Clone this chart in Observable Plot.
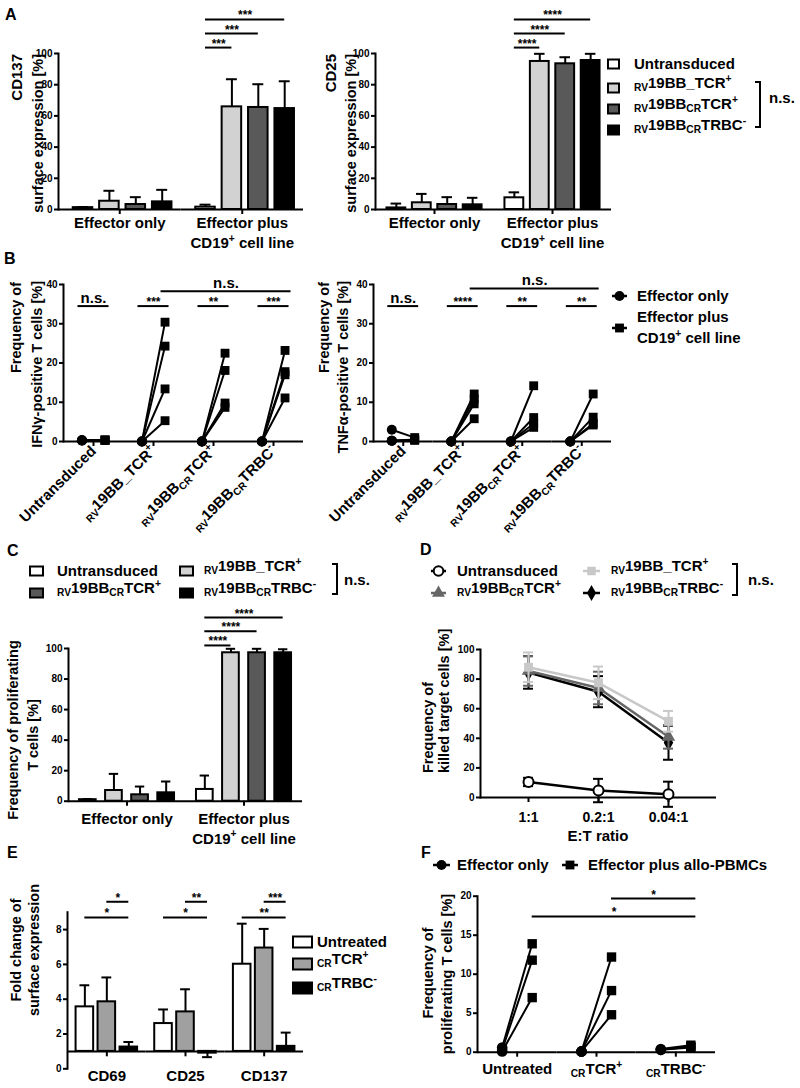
<!DOCTYPE html>
<html>
<head>
<meta charset="utf-8">
<script src="https://cdn.jsdelivr.net/npm/d3@7"></script>
<script src="https://cdn.jsdelivr.net/npm/@observablehq/plot@0.6"></script>
<style>
html,body{margin:0;padding:0;background:#fff;}
#fig{position:relative;width:800px;height:1088px;overflow:hidden;background:#fff;font-family:'Liberation Sans',Arial,Helvetica,sans-serif;font-weight:bold;}
#fig svg{position:absolute;}
</style>
</head>
<body>
<div id="fig"></div>
<script>
// ======================= DATA =======================
// Panels A & C (bar charts)
const barSeries = ["Untransduced", "_{RV}19BB_TCR^{+}", "_{RV}19BB_{CR}TCR^{+}", "_{RV}19BB_{CR}TRBC^{-}"];
const barConditions = ["Effector only", "Effector plus\nCD19^{+} cell line"];
const barColors = ["#ffffff", "#d2d2d2", "#595959", "#000000"];
const cd137Mean = [[1.2, 5.3, 3.2, 4.9], [1.5, 65.8, 65.4, 64.7]];
const cd137SD = [[0.4, 6.7, 4.7, 7.7], [1.6, 17.7, 14.9, 17.5]];
const cd25Mean = [[1.0, 4.3, 3.2, 3.0], [7.5, 94.9, 93.4, 95.5]];
const cd25SD = [[2.8, 5.7, 4.7, 4.5], [3.5, 4.9, 4.2, 4.3]];
const prolifMean = [[1.0, 7.0, 4.2, 5.5], [7.7, 97.2, 97.2, 97.2]];
const prolifSD = [[0.4, 10.9, 5.4, 7.4], [9.1, 2.6, 2.6, 2.3]];
const pctTicks = [0, 20, 40, 60, 80, 100];
const cd137Sig = [{group: 1, from: 0, to: 1, level: 103.8, label: "***"}, {group: 1, from: 0, to: 2, level: 112.8, label: "***"}, {group: 1, from: 0, to: 3, level: 121.8, label: "***"}];
const cd25Sig = [{group: 1, from: 0, to: 1, level: 103.8, label: "****"}, {group: 1, from: 0, to: 2, level: 112.8, label: "****"}, {group: 1, from: 0, to: 3, level: 121.8, label: "****"}];
const prolifSig = [{group: 1, from: 0, to: 1, level: 102, label: "****"}, {group: 1, from: 0, to: 2, level: 111.3, label: "****"}, {group: 1, from: 0, to: 3, level: 120.3, label: "****"}];

// Panel B (paired cytokine data, one value per donor)
const cytoGroups = ["Untransduced", "_{RV}19BB_TCR^{+}", "_{RV}19BB_{CR}TCR^{+}", "_{RV}19BB_{CR}TRBC^{-}"];
const cytoConditions = ["Effector only", "Effector plus CD19+ cell line"];
const ifngEffector = [[0.3, 0.3, 0.2, 0.3], [0, 0, 0, 0], [0, 0, 0, 0], [0, 0, 0, 0]];
const ifngPlus = [[0.4, 0.3, 0.4, 0.3], [30.4, 24.3, 13.4, 5.3], [22.5, 18.1, 9.8, 8.7], [23.2, 17.8, 17.0, 11.1]];
const tnfEffector = [[3.0, 0.2, 0.2, 0.2], [0, 0, 0, 0], [0, 0, 0, 0], [0, 0, 0, 0]];
const tnfPlus = [[1.0, 0.4, 0.3, 0.5], [12.1, 10.8, 9.6, 5.8], [14.2, 6.1, 4.6, 3.6], [12.1, 6.2, 4.6, 4.2]];
const cytoTicks = [0, 10, 20, 30, 40];
const ifngSig = ["n.s.", "***", "**", "***"];
const tnfSig = ["n.s.", "****", "**", "**"];
const cytoSigLevel = 34.5;
const ifngSpan = [{from: 1, to: 3, level: 38.3, label: "n.s."}];
const tnfSpan = [{from: 1, to: 3, level: 39.0, label: "n.s."}];

// Panel D (killing curves)
const ratios = ["1:1", "0.2:1", "0.04:1"];
const killSeries = ["Untransduced", "_{RV}19BB_TCR^{+}", "_{RV}19BB_{CR}TCR^{+}", "_{RV}19BB_{CR}TRBC^{-}"];
const killColors = ["#000000", "#c8c8c8", "#666666", "#000000"];
const killSymbols = ["circle", "square", "triangle", "diamond"];
const killMean = [[10.5, 4.7, 2.2], [88, 77.5, 51.5], [85.5, 74, 41], [84.5, 71.5, 37]];
const killSD = [[2.8, 7.9, 8.5], [10, 11, 7], [10, 11, 8], [11, 10.5, 11.5]];

// Panel E (fold change)
const markers = ["CD69", "CD25", "CD137"];
const treatments = ["Untreated", "_{CR}TCR^{+}", "_{CR}TRBC^{-}"];
const treatColors = ["#ffffff", "#a0a0a0", "#000000"];
const foldMean = [[3.56, 3.85, 1.25], [2.6, 3.27, 0.9], [6.01, 6.94, 1.29]];
const foldSD = [[1.24, 1.4, 0.29], [0.81, 1.3, 0.23], [2.33, 1.1, 0.79]];
const foldBaseline = 1;
const foldTicks = [0, 2, 4, 6, 8];
const foldSig = [
  {marker: 0, from: 1, to: 2, level: 9.6, label: "*"}, {marker: 0, from: 0, to: 2, level: 8.7, label: "*"},
  {marker: 1, from: 1, to: 2, level: 9.6, label: "**"}, {marker: 1, from: 0, to: 2, level: 8.7, label: "*"},
  {marker: 2, from: 1, to: 2, level: 9.6, label: "***"}, {marker: 2, from: 0, to: 2, level: 8.7, label: "**"}
];

// Panel F (allo proliferation)
const alloGroups = ["Untreated", "_{CR}TCR^{+}", "_{CR}TRBC^{-}"];
const alloConditions = ["Effector only", "Effector plus allo-PBMCs"];
const alloEffector = [[0.6, 0.3, 0.1], [0.1, 0.1, 0.1], [0.4, 0.3, 0.3]];
const alloPlus = [[13.9, 11.8, 7.0], [12.2, 7.9, 4.8], [0.9, 0.7, 0.6]];
const alloTicks = [0, 5, 10, 15, 20];
const alloSpan = [{from: 1, to: 2, level: 19.7, label: "*"}, {from: 0, to: 2, level: 17.4, label: "*"}];

// ======================= HELPERS =======================
const FONT = "'Liberation Sans', Arial, Helvetica, sans-serif";
const SW = 2;
const fig = document.getElementById("fig");
const SVGNS = "http://www.w3.org/2000/svg";

// turns "_{sub}" and "^{sup}" markup into real sub/superscript tspans
function richify(root) {
  const els = Array.from(root.querySelectorAll("text, tspan"))
    .filter(el => el.childElementCount === 0 && /[_^]\{/.test(el.textContent));
  for (const el of els) {
    const s = el.textContent;
    el.textContent = "";
    const tokens = s.match(/_\{[^}]*\}|\^\{[^}]*\}|[^_^]+|[_^]/g) || [];
    let shift = 0;
    for (const t of tokens) {
      const ts = document.createElementNS(SVGNS, "tspan");
      let target = 0, size = 1;
      if (t.startsWith("_{")) { target = 0.22; size = 0.68; ts.textContent = t.slice(2, -1); }
      else if (t.startsWith("^{")) { target = -0.42; size = 0.68; ts.textContent = t.slice(2, -1); }
      else ts.textContent = t;
      if (size !== 1) ts.setAttribute("font-size", (size * 100) + "%");
      const d = target - shift;
      if (d) ts.setAttribute("dy", (d / size).toFixed(3) + "em");
      shift = target;
      el.appendChild(ts);
    }
  }
}

function box(svgBox, frameBox) {
  const [sx, sy, sw, sh] = svgBox, [x0, x1, yT, yB] = frameBox;
  return {
    width: sw, height: sh,
    marginLeft: x0 - sx, marginRight: sx + sw - x1, marginTop: yT - sy, marginBottom: sy + sh - yB,
    style: {fontFamily: FONT, fontWeight: "bold", fontSize: "10px", background: "transparent", overflow: "visible", color: "black"}
  };
}

function mount(el, svgBox) {
  el.style.position = "absolute";
  el.style.left = svgBox[0] + "px";
  el.style.top = svgBox[1] + "px";
  fig.appendChild(el);
  richify(el);
}

function safe(fn) { try { fn(); } catch (e) { console.error(e); } }

// ======================= PANEL BUILDERS =======================
function barPanel({svgBox, frameBox, mean, sd, sig, align = 0.5, pi = 0.26, po = 0.45, fxPad = 0}) {
  const rows = barConditions.flatMap((cond, gi) => barSeries.map((series, si) => ({cond, series, value: mean[gi][si], sd: sd[gi][si]})));
  const W = (frameBox[1] - frameBox[0]) / barConditions.length;
  const step = W / (barSeries.length - pi + 2 * po);
  const bw = step * (1 - pi);
  const sigRows = sig.map(s => ({...s, cond: barConditions[s.group], x1: barSeries[s.from], x2: barSeries[s.to]}));
  const top = d => d.value + d.sd;
  const plot = Plot.plot({
    ...box(svgBox, frameBox),
    fx: {domain: barConditions, padding: 0, round: false},
    x: {domain: barSeries, paddingInner: pi, paddingOuter: po, align, round: false, axis: null},
    y: {domain: [0, 100]},
    color: {domain: barSeries, range: barColors},
    marks: [
      Plot.barY(rows, {fx: "cond", x: "series", y: "value", fill: "series", stroke: "black", strokeWidth: SW}),
      Plot.ruleX(rows, {fx: "cond", x: "series", y1: "value", y2: top, strokeWidth: SW}),
      Plot.tickY(rows, {fx: "cond", x: "series", y: top, strokeWidth: SW, insetLeft: bw * 0.22, insetRight: bw * 0.22}),
      Plot.ruleY([0], {strokeWidth: SW}),
      Plot.frame({anchor: "left", strokeWidth: SW, fx: [barConditions[0]]}),
      Plot.axisY({ticks: pctTicks, tickSize: 4, tickPadding: 2, strokeWidth: SW, fontSize: 10, label: null}),
      Plot.axisFx({anchor: "bottom", tickSize: 5, tickPadding: fxPad, strokeWidth: SW, fontSize: 15, lineHeight: 1.3, label: null}),
      Plot.ruleY(sigRows, {fx: "cond", x1: "x1", x2: "x2", y: "level", insetLeft: bw / 2, insetRight: bw / 2, strokeWidth: SW}),
      ...sigRows.map(s => Plot.text([s], {fx: "cond", x: "x1", y: "level", text: "label", dx: (s.to - s.from) * step / 2, lineAnchor: "bottom", fontSize: 12}))
    ]
  });
  mount(plot, svgBox);
}

function pairPanel(o) {
  const {svgBox, frameBox, groups, conds, eff, plus, yMax, ticks, pad, sigLabels, sigLevel, spans, padL, padR, fxAxis, r = 5} = o;
  const rows = [];
  groups.forEach((group, gi) => eff[gi].forEach((v, di) => {
    const donor = `${gi}-${di}`;
    rows.push({group, donor, cond: conds[0], value: v});
    rows.push({group, donor, cond: conds[1], value: plus[gi][di]});
  }));
  const W = (frameBox[1] - frameBox[0]) / groups.length;
  const marks = [
    Plot.ruleY([0], {strokeWidth: SW}),
    Plot.frame({anchor: "left", strokeWidth: SW, fx: [groups[0]]}),
    Plot.axisY({ticks, tickSize: 4, tickPadding: 2, strokeWidth: SW, fontSize: 10, label: null}),
    Plot.axisFx({anchor: "bottom", label: null, strokeWidth: SW, fontSize: 15, ...fxAxis}),
    Plot.line(rows, {fx: "group", x: "cond", y: "value", z: "donor", strokeWidth: SW}),
    Plot.dot(rows, {fx: "group", x: "cond", y: "value", symbol: "cond", fill: "black", r})
  ];
  if (sigLabels) {
    const sigRows = groups.map((group, gi) => ({group, label: sigLabels[gi], a: conds[0], b: conds[1], level: sigLevel}));
    marks.push(
      Plot.ruleY(sigRows, {fx: "group", x1: "a", x2: "b", y: "level", insetLeft: -padL, insetRight: -padL, strokeWidth: SW}),
      Plot.text(sigRows.filter(d => d.label === "n.s."), {fx: "group", y: "level", text: "label", lineAnchor: "bottom", dy: -3, fontSize: 15}),
      Plot.text(sigRows.filter(d => d.label !== "n.s."), {fx: "group", y: "level", text: "label", lineAnchor: "bottom", fontSize: 12})
    );
  }
  for (const s of spans) {
    const k = s.to - s.from;
    const row = {group: groups[s.from], b: conds[1], level: s.level, label: s.label};
    const isNS = s.label === "n.s.";
    marks.push(
      Plot.ruleY([row], {fx: "group", x1: "b", x2: "b", y: "level", insetLeft: -padL, insetRight: -(k * W + padR), strokeWidth: SW}),
      Plot.text([row], {fx: "group", x: "b", y: "level", text: "label", dx: (k * W + padR - padL) / 2, dy: isNS ? -3 : 0, lineAnchor: "bottom", fontSize: isNS ? 15 : 12})
    );
  }
  const plot = Plot.plot({
    ...box(svgBox, frameBox),
    fx: {domain: groups, padding: 0, round: false},
    x: {type: "point", domain: conds, padding: pad, axis: null, round: false},
    y: {domain: [0, yMax]},
    symbol: {domain: conds, range: ["circle", "square"]},
    marks
  });
  mount(plot, svgBox);
}

function killPanel() {
  const svgBox = [410, 600, 330, 255], frameBox = [480, 716, 649, 797];
  const rows = killSeries.flatMap((series, si) => ratios.map((ratio, ri) => ({series, ratio, value: killMean[si][ri], sd: killSD[si][ri]})));
  const marks = [
    Plot.ruleY([0], {strokeWidth: SW}),
    Plot.frame({anchor: "left", strokeWidth: SW}),
    Plot.axisY({ticks: pctTicks, tickSize: 4, tickPadding: 2, strokeWidth: SW, fontSize: 10, label: null}),
    Plot.axisX({tickSize: 5, tickPadding: 10, strokeWidth: SW, fontSize: 14, label: null})
  ];
  for (const si of [0, 3, 2, 1]) {
    const data = rows.filter(d => d.series === killSeries[si]);
    const open = si === 0;
    marks.push(
      Plot.ruleX(data, {x: "ratio", y1: d => d.value - d.sd, y2: d => d.value + d.sd, stroke: "series", strokeWidth: SW}),
      Plot.tickY(data, {x: "ratio", y: d => d.value + d.sd, stroke: "series", strokeWidth: SW, insetLeft: -1.5, insetRight: -1.5}),
      Plot.tickY(data, {x: "ratio", y: d => d.value - d.sd, stroke: "series", strokeWidth: SW, insetLeft: -1.5, insetRight: -1.5}),
      Plot.line(data, {x: "ratio", y: "value", stroke: "series", strokeWidth: 2.5}),
      Plot.dot(data, {x: "ratio", y: "value", symbol: "series", r: 5, fill: open ? "white" : "series", stroke: open ? "black" : "none", strokeWidth: SW})
    );
  }
  const plot = Plot.plot({
    ...box(svgBox, frameBox),
    x: {type: "band", domain: ratios, paddingInner: 0.9, paddingOuter: 0.636, round: false},
    y: {domain: [0, 100]},
    color: {domain: killSeries, range: killColors},
    symbol: {domain: killSeries, range: killSymbols},
    marks
  });
  mount(plot, svgBox);
}

function foldPanel() {
  const svgBox = [0, 870, 310, 218], frameBox = [67, 303, 911.7, 1068.3];
  const pi = 0.2, po = 0.39;
  const W = (frameBox[1] - frameBox[0]) / markers.length;
  const step = W / (treatments.length - pi + 2 * po), bw = step * (1 - pi);
  const rows = markers.flatMap((marker, mi) => treatments.map((treat, ti) => ({marker, treat, value: foldMean[mi][ti], sd: foldSD[mi][ti]})));
  const tip = d => d.value >= foldBaseline ? d.value + d.sd : d.value - d.sd;
  const sigRows = foldSig.map(s => ({...s, m: markers[s.marker], x1: treatments[s.from], x2: treatments[s.to]}));
  const plot = Plot.plot({
    ...box(svgBox, frameBox),
    fx: {domain: markers, padding: 0, round: false},
    x: {domain: treatments, paddingInner: pi, paddingOuter: po, round: false, axis: null},
    y: {domain: [0, 9]},
    color: {domain: treatments, range: treatColors},
    marks: [
      Plot.barY(rows, {fx: "marker", x: "treat", y1: foldBaseline, y2: "value", fill: "treat", stroke: "black", strokeWidth: SW}),
      Plot.ruleX(rows, {fx: "marker", x: "treat", y1: "value", y2: tip, strokeWidth: SW}),
      Plot.tickY(rows, {fx: "marker", x: "treat", y: tip, strokeWidth: SW, insetLeft: bw * 0.22, insetRight: bw * 0.22}),
      Plot.ruleY([foldBaseline], {strokeWidth: SW}),
      Plot.frame({anchor: "left", strokeWidth: SW, fx: [markers[0]]}),
      Plot.ruleX(markers, {fx: d => d, x: null, y: foldBaseline, insetTop: -12, strokeWidth: SW}),
      Plot.axisY({ticks: foldTicks, tickSize: 4, tickPadding: 2, strokeWidth: SW, fontSize: 10, label: null}),
      Plot.axisFx({anchor: "bottom", tickSize: 0, tickPadding: 2, fontSize: 15, label: null}),
      Plot.ruleY(sigRows, {fx: "m", x1: "x1", x2: "x2", y: "level", insetLeft: bw / 2, insetRight: bw / 2, strokeWidth: SW}),
      ...sigRows.map(s => Plot.text([s], {fx: "m", x: "x1", y: "level", text: "label", dx: (s.to - s.from) * step / 2, lineAnchor: "bottom", fontSize: 12}))
    ]
  });
  mount(plot, svgBox);
}

// ======================= BUILD PANELS =======================
safe(() => barPanel({svgBox: [0, 0, 310, 255], frameBox: [58, 303, 53, 209], mean: cd137Mean, sd: cd137SD, sig: cd137Sig, align: 0.62}));
safe(() => barPanel({svgBox: [320, 0, 300, 255], frameBox: [375, 611, 53, 209], mean: cd25Mean, sd: cd25SD, sig: cd25Sig}));
safe(() => pairPanel({svgBox: [0, 265, 310, 265], frameBox: [63, 303, 284, 441], groups: cytoGroups, conds: cytoConditions,
  eff: ifngEffector, plus: ifngPlus, yMax: 40, ticks: cytoTicks, pad: 0.8, sigLabels: ifngSig, sigLevel: cytoSigLevel,
  spans: ifngSpan, padL: 4, padR: 6, fxAxis: {tickSize: 5, tickPadding: 2, tickRotate: -45}}));
safe(() => pairPanel({svgBox: [320, 265, 300, 265], frameBox: [373, 611, 284, 441], groups: cytoGroups, conds: cytoConditions,
  eff: tnfEffector, plus: tnfPlus, yMax: 40, ticks: cytoTicks, pad: 0.8, sigLabels: tnfSig, sigLevel: cytoSigLevel,
  spans: tnfSpan, padL: 4, padR: 6, fxAxis: {tickSize: 5, tickPadding: 2, tickRotate: -45}}));
safe(() => barPanel({svgBox: [0, 600, 310, 255], frameBox: [68, 302, 648, 800.7], mean: prolifMean, sd: prolifSD, sig: prolifSig, pi: 0.36, po: 0.42, fxPad: 4}));
safe(killPanel);
safe(foldPanel);
safe(() => pairPanel({svgBox: [410, 870, 320, 218], frameBox: [477, 715, 895.7, 1051.7], groups: alloGroups, conds: alloConditions,
  eff: alloEffector, plus: alloPlus, yMax: 20, ticks: alloTicks, pad: 0.82, sigLabels: null, sigLevel: 0,
  spans: alloSpan, padL: 0, padR: 5, fxAxis: {tickSize: 5, tickPadding: 6}, r: 5.3}));

// ======================= OVERLAY: titles, legends, labels =======================
const ov = d3.select(fig).append("svg")
  .attr("width", 800).attr("height", 1088)
  .style("left", "0px").style("top", "0px").style("overflow", "visible")
  .attr("font-family", FONT).attr("font-weight", "bold").attr("fill", "black");

function T(x, y, s, {size = 15, anchor = "start", rotate = 0} = {}) {
  ov.append("text")
    .attr("transform", `translate(${x},${y})` + (rotate ? ` rotate(${rotate})` : ""))
    .attr("text-anchor", anchor).attr("font-size", size).attr("dy", "0.35em").text(s);
}
function swatch(x, y, w, h, fill) {
  ov.append("rect").attr("x", x).attr("y", y - h / 2).attr("width", w).attr("height", h)
    .attr("fill", fill).attr("stroke", "black").attr("stroke-width", 2);
}
const symbolMap = {circle: d3.symbolCircle, square: d3.symbolSquare, triangle: d3.symbolTriangle, diamond: d3.symbolDiamond};
function lineSymbol(x1, x2, y, sym, color, {open = false, r = 5} = {}) {
  ov.append("line").attr("x1", x1).attr("x2", x2).attr("y1", y).attr("y2", y).attr("stroke", color).attr("stroke-width", 2.5);
  ov.append("path").attr("transform", `translate(${(x1 + x2) / 2},${y})`)
    .attr("d", d3.symbol(symbolMap[sym], Math.PI * r * r)())
    .attr("fill", open ? "white" : color).attr("stroke", open ? "black" : "none").attr("stroke-width", 2);
}
function bracket(x, y1, y2) {
  ov.append("path").attr("d", `M${x - 5},${y1}H${x}V${y2}H${x - 5}`).attr("fill", "none").attr("stroke", "black").attr("stroke-width", 2);
}
const rot = {rotate: -90};

// panel letters
T(5, 14, "A", {size: 16}); T(4, 258, "B", {size: 16}); T(7, 550, "C", {size: 16});
T(420, 549, "D", {size: 16}); T(7, 852, "E", {size: 16}); T(421, 852, "F", {size: 16});

// A titles + legend
T(17, 54, "CD137", {...rot, anchor: "end"});
T(38, 54, "surface expression [%]", {...rot, anchor: "end", size: 14.5});
T(331, 54, "CD25", {...rot, anchor: "end"});
T(351, 54, "surface expression [%]", {...rot, anchor: "end", size: 14.5});
const aLegY = [64, 88, 109, 130];
barSeries.forEach((s, i) => { swatch(608, aLegY[i], 11, 9, barColors[i]); T(634, aLegY[i], s); });
bracket(760, 82, 127); T(769, 98, "n.s.");

// B titles + legend
T(16, 282, "Frequency of", {...rot, anchor: "end", size: 14.5});
T(37, 281, "IFNγ-positive T cells [%]", {...rot, anchor: "end", size: 14.5});
T(324, 282, "Frequency of", {...rot, anchor: "end", size: 14.5});
T(343, 281, "TNFα-positive T cells [%]", {...rot, anchor: "end", size: 14.5});
lineSymbol(612, 627, 296, "circle", "black");
T(637, 296, "Effector only");
lineSymbol(612, 627, 328, "square", "black");
T(637, 317, "Effector plus"); T(637, 338, "CD19^{+} cell line");

// C titles + legend
T(13, 730, "Frequency of proliferating", {...rot, anchor: "middle", size: 14.5});
T(33, 735, "T cells [%]", {...rot, anchor: "middle", size: 14.5});
const cLeg = [[30, 571, 57], [180, 571, 204], [30, 593, 57], [180, 593, 204]];
const cOrder = [0, 1, 2, 3];
cOrder.forEach((si, i) => { const [sx, sy, tx] = cLeg[i]; swatch(sx, sy, 13, 9, barColors[si]); T(tx, sy, barSeries[si]); });
bracket(337, 564, 594); T(344, 580, "n.s.");

// D titles + legend
T(428, 773, "Frequency of", {...rot, anchor: "start", size: 14.5});
T(444, 773, "killed target cells [%]", {...rot, anchor: "start", size: 14.5});
T(598, 836, "E:T ratio", {anchor: "middle"});
const dLeg = [[431, 446, 571, 457], [583, 600, 571, 611], [431, 446, 593, 457], [583, 600, 593, 611]];
const dOrder = [0, 1, 2, 3];
dOrder.forEach((si, i) => {
  const [x1, x2, y, tx] = dLeg[i];
  lineSymbol(x1, x2, y, killSymbols[si], killColors[si], {open: si === 0, r: 4.8});
  T(tx, y, killSeries[si]);
});
bracket(737, 564, 595); T(748, 580, "n.s.");

// E titles + legend
T(16, 950, "Fold change of", {...rot, anchor: "middle", size: 14.5});
T(34, 950, "surface expression", {...rot, anchor: "middle", size: 14.5});
const eLegY = [942, 964, 988];
treatments.forEach((t, i) => { swatch(293, eLegY[i], 19, 11, treatColors[i]); T(317, eLegY[i], t); });

// F titles + legend
T(428, 973, "Frequency of", {...rot, anchor: "middle", size: 14.5});
T(447, 974, "proliferating T cells [%]", {...rot, anchor: "middle", size: 14.5});
lineSymbol(433, 450, 865, "circle", "black");
T(457, 865, "Effector only");
lineSymbol(562, 578, 865, "square", "black");
T(588, 865, "Effector plus allo-PBMCs");

richify(ov.node());
</script>
</body>
</html>
